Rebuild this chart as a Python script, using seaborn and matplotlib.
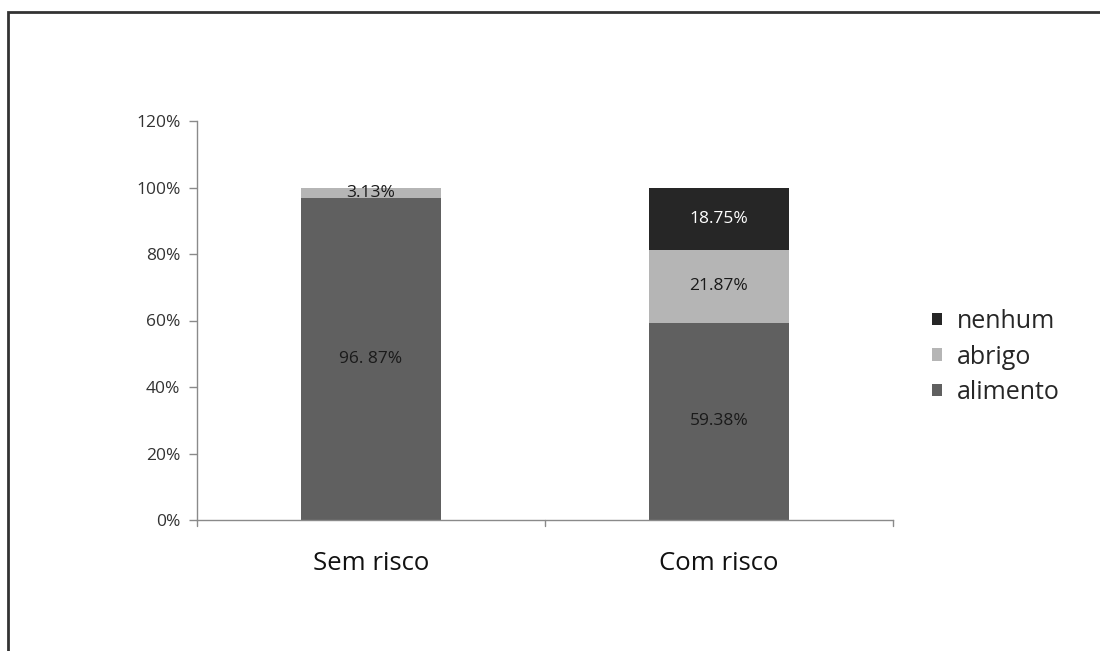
import matplotlib
matplotlib.use("Agg")
import matplotlib.pyplot as plt
import seaborn as sns
import pandas as pd
import numpy as np
from matplotlib.patches import Rectangle

categories = ["Sem risco", "Com risco"]
alimento = [96.87, 59.38]
abrigo = [3.13, 21.87]
nenhum = [0.0, 18.75]
labels_alimento = ["96. 87%", "59.38%"]
labels_abrigo = ["3.13%", "21.87%"]
labels_nenhum = ["", "18.75%"]
yticks = [0, 20, 40, 60, 80, 100, 120]
ytick_labels = ["0%", "20%", "40%", "60%", "80%", "100%", "120%"]

col_alim = "#606060"
col_abr = "#b5b5b5"
col_nen = "#262626"

sns.set_style("white")
plt.rcParams["font.family"] = ["Open Sans", "DejaVu Sans"]

fig = plt.figure(figsize=(11, 6.51), dpi=100)
ax = fig.add_axes([197/1100, 1-520/651, (893-197)/1100, (520-121)/651])

cum1 = np.array(alimento)
cum2 = cum1 + np.array(abrigo)
cum3 = cum2 + np.array(nenhum)

df = pd.DataFrame({"cat": categories, "c1": cum1, "c2": cum2, "c3": cum3})
sns.barplot(data=df, x="cat", y="c3", color=col_nen, width=0.4, saturation=1, ax=ax, label="nenhum", linewidth=0)
sns.barplot(data=df, x="cat", y="c2", color=col_abr, width=0.4, saturation=1, ax=ax, label="abrigo", linewidth=0)
sns.barplot(data=df, x="cat", y="c1", color=col_alim, width=0.4, saturation=1, ax=ax, label="alimento", linewidth=0)

ax.set_ylim(0, 120)
ax.set_xlim(-0.5, 1.5)
ax.set_yticks(yticks)
ax.set_yticklabels(ytick_labels, fontsize=12.5, color="#333333")
ax.set_xticks([0, 1])
ax.set_xticklabels(categories, fontsize=18.5, color="#111111")
ax.set_xlabel("")
ax.set_ylabel("")
ax.tick_params(axis="x", length=0, pad=22)
ax.tick_params(axis="y", length=6, width=1, color="#8a8a8a", direction="out", pad=6, left=True)
for s in ["top", "right"]:
    ax.spines[s].set_visible(False)
for s in ["left", "bottom"]:
    ax.spines[s].set_color("#8a8a8a")
    ax.spines[s].set_linewidth(1)
# category boundary tick marks on x axis
for xb in [-0.5, 0.5, 1.5]:
    ax.plot([xb, xb], [0, -1.8], color="#8a8a8a", lw=1, clip_on=False)

for i in range(2):
    ax.text(i, cum1[i]/2, labels_alimento[i], ha="center", va="center", fontsize=12.5, color="#1a1a1a")
    mid = (cum1[i] + cum2[i]) / 2
    ax.text(i, mid, labels_abrigo[i], ha="center", va="center", fontsize=12.5, color="#1a1a1a")
    if labels_nenhum[i]:
        ax.text(i, (cum2[i] + cum3[i]) / 2, labels_nenhum[i], ha="center", va="center", fontsize=12.5, color="white")

h, l = ax.get_legend_handles_labels()
if ax.get_legend() is not None:
    ax.get_legend().remove()
leg = fig.legend(h, l, loc="center left", bbox_to_anchor=(909/1100, 1-357/651), frameon=False,
                 fontsize=18, handlelength=0.4, handleheight=0.4, handletextpad=0.6, labelspacing=0.42)

fig.patches.append(Rectangle((8/1100, -0.1), 1.2, 1-12/651+0.1, transform=fig.transFigure,
                             fill=False, edgecolor="#333333", lw=2))

fig.savefig("out.png", dpi=100)
